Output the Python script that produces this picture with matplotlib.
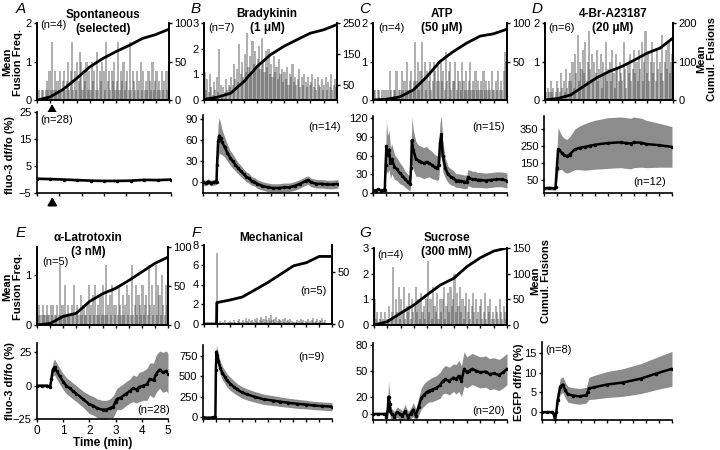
import matplotlib
matplotlib.use('Agg')
import matplotlib.pyplot as plt
import matplotlib.transforms as mtransforms
import numpy as np

plt.rcParams['font.family'] = ['Liberation Sans', 'DejaVu Sans']
plt.rcParams['font.size'] = 8

# ---- fusion histograms (mean fusion frequency per 3 s bin, 0-5 min) ----
BIN = 0.05
a_freq = [0, .25, 0, .25, .25, 0, .25, .5, .25, .75,
          .25, 1.5, .25, .75, .25, .5, .25, .75, .25, .5,
          .75, .25, .5, 1.0, .25, .75, 1.5, .25, .75, .25,
          1.0, .5, 1.25, 1.0, .25, .75, .5, 1.0, .25, .75,
          .25, 1.0, .5, .75, .25, 1.25, .25, .75, .5, 1.0,
          .75, .25, 1.5, .5, .75, .25, .75, .5, 1.0, .25,
          .5, 1.5, .25, .75, .5, 1.0, .25, .5, .75, .25,
          1.5, .25, .75, .5, .25, .75, .25, .5, 1.0, .25,
          .75, .25, .5, .25, .75, .5, .25, 1.0, .25, .5,
          .75, .25, .5, .25, .75, .25, .5, .75, .25, .75]
b_freq = [1.1, .4, .8, .3, 1.0, .5, .2, .7, .4, .9,
          .3, 2.0, .6, .2, .5, .3, .8, .4, .6, .5,
          .9, .6, 1.4, .8, 1.2, .7, 2.2, 1.0, 1.5, .9,
          1.8, 1.1, 2.6, 1.3, 1.7, 1.0, 2.3, 1.4, 1.9, 1.2,
          1.6, 2.1, 1.2, 2.4, 1.5, 1.1, 1.9, 1.3, 2.0, 1.0,
          1.4, .9, 1.7, 1.1, 1.3, .8, 1.6, 1.0, 1.2, .7,
          1.1, .8, 1.3, .6, 1.0, .9, 1.4, .7, .9, .6,
          .8, 1.2, .5, .9, .6, 1.0, .7, .5, .9, .6,
          .7, 1.0, .5, .8, .4, .9, .6, .5, .8, .4,
          .6, .9, .4, .7, .5, 1.0, .4, .6, .8, .5]
c_freq = [.25, .25, 0, .25, .25, 0, .25, 0, .25, .25,
          0, .25, .75, .25, 0, .25, .25, .75, 0, .25,
          .25, .75, .25, .5, .25, 1.0, .25, .5, .75, .25,
          .5, 1.5, .5, 1.0, .25, .75, 1.5, .5, 1.0, .25,
          .75, .5, 1.0, .25, .5, 1.0, .75, .5, 1.0, .5,
          1.0, .5, .75, .25, 1.25, .5, .75, 1.0, .25, .5,
          .5, 1.0, .25, .75, .5, .25, 1.0, .5, .25, .75,
          .25, .5, 1.0, .25, .5, .25, .75, .25, .5, .25,
          .5, .25, .75, .25, .5, .25, .5, .25, .75, .25,
          .25, .5, .25, .75, .25, .5, .25, .75, 1.25, 1.0]
d_freq = [.2, 0, .3, .2, .5, .2, .3, 0, .2, .5,
          .3, .2, .7, .3, .5, .2, .8, .3, .5, .7,
          .5, 1.0, .3, 1.2, .7, 1.7, .5, 1.0, .8, 1.3,
          .7, 1.5, .5, 1.0, 1.8, .8, 1.2, .5, 1.0, .7,
          1.3, .5, .8, 1.2, .3, 1.0, .7, 1.5, .5, .8,
          1.0, .5, 1.3, .7, .3, 1.2, .8, .5, 1.0, .7,
          .5, 1.5, .8, .3, 1.0, .7, 1.2, .5, .8, 1.3,
          .7, 1.0, .5, 1.3, .8, 1.5, .5, 1.0, 1.8, .7,
          1.2, .5, 1.0, 1.5, .7, 1.0, .5, 1.3, .8, 1.0,
          .7, 1.7, .5, 1.0, 1.3, .8, 1.5, .7, 1.0, 1.2]
e_freq = [.2, .4, .2, .2, .4, .2, .2, .4, .2, .2,
          .4, .2, .4, .2, .2, .4, .2, 1.2, .2, .4,
          .2, .8, .2, .4, .2, .2, .4, .2, .8, .2,
          .4, .2, .2, .6, .2, .4, .2, .2, .4, .8,
          .2, .4, .6, .2, .8, .2, .4, .2, .6, .2,
          .8, .2, 1.2, .2, .4, .6, .2, .8, .4, .2,
          .4, .2, .8, .4, .2, .6, .2, .4, .8, .2,
          .6, .2, 1.2, .2, .4, .8, .2, .6, .4, .2,
          .8, .2, .4, .6, .2, 1.2, .4, .8, .2, .4,
          1.2, .2, .8, .6, .2, 1.0, .4, .2, .8, .4]
f_freq = [0, 0, 0, 0, 0, 0, 0, 0, 0, 0,
          7.2, 0, .3, 0, .2, 0, .4, 0, .2, 0,
          .3, .2, 0, .4, .2, 0, .3, .5, .2, 0,
          .4, .2, .6, .3, .2, .5, .3, .4, .2, .5,
          .3, .6, .2, .4, .7, .3, .5, .2, .8, .4,
          .6, .3, .9, .4, .5, .2, .7, .3, .5, .4,
          .3, .5, .2, .6, .3, .4, .2, .5, .3, .2,
          0, .2, .4, 0, .3, .5, .2, .4, 0, .3,
          .2, .5, .3, 0, .4, .6, .2, .3, .5, .2,
          .4, .3, .6, .2, .4, 0, 0, 0, 0, 0]
g_freq = [1.0, .25, .5, 0, .25, .5, .25, 0, .5, .25,
          .25, .75, .25, .5, 2.25, .25, 1.0, .5, 1.5, .25,
          1.0, .5, 1.5, .25, .75, .5, 1.25, .25, 1.0, .5,
          .75, 1.5, .5, 1.0, .25, 1.25, .5, .75, .25, 1.0,
          2.5, .5, 1.0, .25, 1.5, .75, .5, 1.25, .25, 1.0,
          .5, 1.0, 1.5, .25, .75, 1.25, .5, 1.5, .75, 1.0,
          2.0, .5, 1.25, .75, 1.5, .5, 1.0, .25, .75, 1.25,
          .5, 1.0, .25, .75, 1.25, .5, 1.0, .25, .5, .75,
          1.0, .25, .5, 1.25, .25, .75, .5, 1.0, .25, .5,
          .25, .75, .5, .25, 1.0, .5, .25, .75, .5, .25]

# ---- mean cumulative fusions ----
cum_t = [0, .5, 1, 1.5, 2, 2.5, 3, 3.5, 4, 4.5, 5]
a_cum = [0, 4, 14, 28, 43, 54, 63, 71, 80, 85, 92]
b_cum = [2, 9, 22, 60, 109, 147, 174, 196, 217, 228, 245]
c_cum = [0, 1, 4, 13, 30, 50, 63, 74, 83, 86, 92]
d_cum = [0, 4, 13, 35, 57, 74, 87, 104, 122, 135, 161]
e_cum = [0, 2, 11, 15, 30, 40, 47, 57, 68, 79, 87]
f_cum_t = [0, .49, .5, 1, 1.5, 2, 2.5, 3, 3.5, 4, 4.5, 5]
f_cum = [0, 0, 20.6, 23, 26, 33, 40, 48, 56, 59, 65, 65]
g_cum = [0, 6.5, 23, 39, 59, 78, 91, 114, 131, 144, 150]

# ---- calcium / EGFP traces (mean and SEM) ----
a_ca_t = [0, .5, 1, 1.5, 2, 2.5, 3, 3.5, 4, 4.5, 5]
a_ca = [.3, .2, 0, -.2, -.4, -.5, -.5, -.4, -.1, -.2, 0]
a_ca_sem = [.4] * 11

b_ca_t = [0, .1, .2, .3, .4, .5, .52, .56, .6, .65, .7, .8, .9, 1.0, 1.1, 1.2, 1.3, 1.4, 1.5, 1.6,
          1.7, 1.8, 1.9, 2.0, 2.2, 2.4, 2.6, 2.8, 3.0, 3.2, 3.4, 3.6, 3.8, 3.9, 4.0, 4.2, 4.4, 4.6, 4.8, 5.0]
b_ca = [0, -1, 1, -1, 0, 1, 25, 58, 66, 62, 57, 50, 42, 35, 30, 25, 20, 16, 12, 8,
        6, 2, 1, -2, -5, -7, -8, -8, -7, -7, -5, -2, 2, 3, 0, -2, -2, -3, -3, -2]
b_ca_sem = [4, 4, 4, 4, 4, 4, 15, 25, 25, 22, 18, 14, 12, 10, 10, 9, 8, 8, 7, 7,
            7, 6, 6, 6, 6, 6, 6, 6, 6, 6, 6, 6, 6, 6, 6, 6, 6, 6, 6, 6]

c_ca_t = [0, .1, .2, .3, .4, .44, .47, .5, .55, .6, .65, .7, .8, .9, 1.0, 1.1, 1.2, 1.3, 1.38, 1.42,
          1.45, 1.5, 1.6, 1.7, 1.8, 1.9, 2.0, 2.1, 2.2, 2.3, 2.4, 2.45, 2.5, 2.55, 2.6, 2.7, 2.8, 2.9,
          3.0, 3.1, 3.2, 3.3, 3.4, 3.5, 3.55, 3.6, 3.7, 3.8, 3.9, 4.0, 4.2, 4.4, 4.6, 4.8, 5.0]
c_ca = [5, 4, 6, 4, 5, 5, 45, 75, 62, 70, 48, 55, 42, 38, 32, 28, 22, 18, 15, 40,
        85, 70, 55, 52, 50, 48, 50, 48, 45, 42, 40, 45, 80, 95, 60, 40, 30, 26,
        24, 20, 20, 19, 18, 18, 25, 24, 22, 22, 21, 21, 20, 21, 22, 22, 20]
c_ca_sem = [2, 2, 2, 2, 2, 2, 15, 40, 30, 32, 25, 24, 20, 18, 17, 15, 13, 12, 12, 22,
            38, 32, 28, 25, 25, 25, 25, 22, 22, 20, 20, 22, 32, 30, 25, 16, 13, 13,
            12, 11, 11, 11, 11, 11, 13, 13, 13, 13, 12, 12, 12, 12, 12, 12, 12]

d_ca_t = [0, .2, .4, .45, .5, .55, .6, .7, .8, .9, 1.0, 1.2, 1.4, 1.6, 1.8, 2.0, 2.5, 3.0, 3.2, 3.4,
          3.5, 3.8, 4.0, 4.5, 5.0]
d_ca = [0, 2, 0, 5, 120, 230, 225, 210, 195, 190, 200, 230, 240, 245, 252, 258, 268, 272, 268, 265,
        272, 270, 262, 255, 245]
d_ca_sem = [10, 10, 10, 20, 80, 130, 115, 100, 100, 100, 105, 120, 130, 138, 142, 145, 150, 150, 150, 150,
            150, 145, 140, 130, 120]

e_ca_t = [0, .2, .4, .5, .55, .6, .67, .75, .87, 1.0, 1.12, 1.25, 1.37, 1.5, 1.75, 2.0, 2.14, 2.3, 2.5, 2.65,
          2.77, 2.9, 3.0, 3.05, 3.2, 3.4, 3.55, 3.66, 3.8, 3.9, 4.05, 4.2, 4.3, 4.45, 4.55, 4.68, 4.8, 4.94, 5.0]
e_ca = [0, 0, 0, -1, 5, 12, 14, 11, 7, 3, 0, -2, -4, -6, -10, -14, -15, -17, -18, -18,
        -17, -16, -12, -10, -9, -6, -4, -2, -3, -1, 0, 1, 5, 4, 9, 12, 10, 11, 9]
e_ca_sem = [1, 1, 1, 1, 3, 5, 6, 6, 6, 6, 6, 6, 6, 6, 6, 7, 7, 7, 7, 7,
            7, 8, 8, 8, 9, 9, 9, 10, 10, 11, 11, 12, 12, 13, 14, 14, 15, 15, 15]

f_ca_t = [0, .2, .4, .48, .5, .52, .55, .6, .67, .75, .85, .93, 1.05, 1.2, 1.32, 1.5, 1.7, 2.0, 2.35, 2.7,
          3.0, 3.3, 3.64, 4.0, 4.29, 4.6, 5.0]
f_ca = [0, -5, 0, 0, 570, 800, 760, 680, 600, 540, 490, 450, 410, 370, 340, 305, 280, 250, 220, 205,
        190, 178, 165, 155, 145, 138, 130]
f_ca_sem = [5, 5, 5, 5, 60, 80, 80, 80, 80, 80, 80, 80, 80, 75, 70, 70, 68, 65, 62, 60,
            58, 55, 55, 52, 50, 50, 50]

g_ca_t = [0, .2, .4, .47, .5, .55, .58, .62, .65, .7, .8, .9, 1.0, 1.1, 1.2, 1.3, 1.4, 1.5, 1.6, 1.7,
          1.8, 1.9, 2.0, 2.1, 2.2, 2.35, 2.5, 2.6, 2.7, 2.85, 3.0, 3.1, 3.2, 3.3, 3.4, 3.5, 3.6, 3.7,
          3.85, 4.0, 4.2, 4.35, 4.5, 4.7, 4.85, 5.0]
g_ca = [0, 0, 0, 0, -3, 5, 20, 12, 3, 0, -3, 2, 0, -2, 3, -3, 0, 5, -2, 8,
        18, 22, 25, 27, 28, 30, 33, 38, 40, 38, 42, 40, 44, 38, 52, 48, 50, 52,
        50, 48, 49, 46, 47, 45, 48, 52]
g_ca_sem = [1, 1, 1, 1, 4, 8, 18, 12, 8, 6, 6, 6, 6, 6, 8, 6, 6, 8, 8, 10,
            12, 13, 13, 13, 14, 14, 15, 15, 16, 16, 16, 17, 18, 18, 20, 18, 18, 18,
            18, 18, 18, 18, 18, 18, 18, 18]

h_gfp_t = [0, .2, .4, .45, .5, .55, .6, .7, .8, .9, 1.0, 1.2, 1.45, 1.7, 1.75, 1.8, 2.0, 2.5, 3.1, 3.8, 4.4, 5.0]
h_gfp = [0, 0, 0, -.5, -2, 0, 3, 6.5, 7, 5.5, 4.5, 4.2, 4, 4.3, 5, 6, 6.3, 7, 7.5, 8.5, 9.8, 11]
h_gfp_sem = [.2, .2, .2, .3, .5, 1, 1.5, 2, 2, 2, 2, 2, 2, 2, 2.3, 2.8, 3, 3.3, 3.5, 3.8, 4.1, 4.4]

W, H = 720, 450
fig = plt.figure(figsize=(7.2, 4.5), dpi=100)


def box(x0, y0, x1, y1):
    return [x0 / W, 1 - y1 / H, (x1 - x0) / W, (y1 - y0) / H]


def style(ax):
    for s in ax.spines.values():
        s.set_linewidth(1.2)
    ax.tick_params(direction='out', length=2.5, width=1, pad=1.5, labelsize=8)


def hist_panel(rect, freq, lmax, lticks, ct, cum, rmax, rticks):
    ax = fig.add_axes(rect)
    t = np.arange(len(freq)) * BIN + BIN / 2
    # overlapping translucent bars: light single spikes, darker dense body
    ax.bar(t, freq, width=BIN * 1.6, color='#444444', alpha=0.42, linewidth=0)
    ax.set_xlim(0, 5)
    ax.set_ylim(0, lmax)
    ax.set_yticks(lticks)
    ax.set_xticks(np.arange(0, 5.01, 0.5))
    ax.set_xticklabels([])
    ax.spines['top'].set_visible(False)
    style(ax)
    ax2 = ax.twinx()
    ax2.plot(ct, cum, color='k', lw=2)
    ax2.set_ylim(0, rmax)
    ax2.set_yticks(rticks)
    ax2.spines['top'].set_visible(False)
    style(ax2)
    return ax


def ca_panel(rect, t, m, s, ylim, yticks, xticks=None):
    ax = fig.add_axes(rect)
    t, m, s = np.asarray(t), np.asarray(m), np.asarray(s)
    ax.fill_between(t, m - s, m + s, color='#8c8c8c', lw=0)
    ax.plot(t, m, color='k', lw=1.8, marker='.', ms=3)
    ax.set_xlim(0, 5)
    ax.set_ylim(*ylim)
    ax.set_yticks(yticks)
    ax.set_xticks(np.arange(0, 5.01, 0.5) if xticks is None else xticks)
    ax.set_xticklabels([])
    ax.spines['top'].set_visible(False)
    ax.spines['right'].set_visible(False)
    style(ax)
    return ax


ax_a = hist_panel(box(37, 23, 169, 100), a_freq, 2, [0, 1, 2], cum_t, a_cum, 100, [0, 50, 100])
hist_panel(box(204, 23, 337, 100), b_freq, 3, [0, 1, 2, 3], cum_t, b_cum, 250, [50, 150, 250])
hist_panel(box(373, 23, 507, 100), c_freq, 2, [0, 1, 2], cum_t, c_cum, 100, [50, 100])
hist_panel(box(545, 23, 673, 100), d_freq, 2, [0, 1, 2], cum_t, d_cum, 200, [0, 100, 200])

ax_a2 = ca_panel(box(37, 112, 171, 193), a_ca_t, a_ca, a_ca_sem, (-5, 25), [-5, 5, 15, 25],
                 xticks=np.linspace(0, 5, 7))
ca_panel(box(203, 115, 338, 193), b_ca_t, b_ca, b_ca_sem, (-15, 95), [0, 30, 60, 90])
ca_panel(box(373, 116, 507, 193), c_ca_t, c_ca, c_ca_sem, (0, 124), [0, 30, 60, 90, 120])
ca_panel(box(544, 116, 672, 193), d_ca_t, d_ca, d_ca_sem, (-28, 428), [50, 150, 250, 350])

hist_panel(box(37, 247, 168, 325), e_freq, 1.55, [0, 1], cum_t, e_cum, 100, [0, 50, 100])
hist_panel(box(204, 245, 332, 324), f_freq, 8, [0, 2, 4, 6, 8], f_cum_t, f_cum, 76, [0, 50])
hist_panel(box(374, 248, 507, 325), g_freq, 3, [0, 1, 2, 3], cum_t, g_cum, 150, [0, 50, 100, 150])

ax_e = ca_panel(box(37, 343, 168, 419), e_ca_t, e_ca, e_ca_sem, (-25, 32), [-25, 0, 25],
                xticks=[0, 1, 2, 3, 4, 5])
ax_e.set_xticklabels(['0', '1', '2', '3', '4', '5'])
ax_e.tick_params(axis='x', labelsize=8.5, pad=1.5)
ca_panel(box(203, 345, 332, 419), f_ca_t, f_ca, f_ca_sem, (-20, 880), [0, 250, 500, 750])
ca_panel(box(373, 343, 507, 420), g_ca_t, g_ca, g_ca_sem, (-7, 82), [0, 20, 50, 80])
ca_panel(box(542, 342, 672, 420), h_gfp_t, h_gfp, h_gfp_sem, (-2, 17.8), [0, 5, 10, 15])

# stimulus arrows under panel A (fixed pixel offsets below each axis)
for ax in (ax_a, ax_a2):
    tr = mtransforms.blended_transform_factory(ax.transData, ax.transAxes)
    ax.annotate('', xy=(0.57, 0), xytext=(0.57, 0), xycoords=tr,
                textcoords=mtransforms.offset_copy(tr, fig=fig, y=-11, units='dots'),
                arrowprops=dict(arrowstyle='-|>,head_width=0.35,head_length=0.6', color='k', lw=1.3,
                                shrinkA=0, shrinkB=3))


def ftext(x, y, s, **kw):
    fig.text(x / W, 1 - y / H, s, **kw)


# panel letters
for x, y, s in [(21, 9, 'A'), (196, 9, 'B'), (365, 9, 'C'), (537, 9, 'D'),
                (21, 233, 'E'), (196, 233, 'F'), (365, 233, 'G')]:
    ftext(x, y, s, fontsize=11, style='italic', ha='center', va='center')

# titles
for x, y, s in [(103, 22, 'Spontaneous\n(selected)'), (267, 21, 'Bradykinin\n(1 μM)'),
                (442, 21, 'ATP\n(50 μM)'), (613, 21, '4-Br-A23187\n(20 μM)'),
                (88, 245, 'α-Latrotoxin\n(3 nM)'), (271, 238, 'Mechanical'),
                (447, 245, 'Sucrose\n(300 mM)')]:
    ftext(x, y, s, fontsize=8.5, fontweight='bold', ha='center', va='center',
          multialignment='center', linespacing=1.15)

# n labels
for x, y, s in [(40, 25, '(n=4)'), (208, 28, '(n=7)'), (378, 28, '(n=4)'), (548, 28, '(n=6)'),
                (40, 120, '(n=28)'), (308, 127, '(n=14)'), (472, 127, '(n=15)'), (633, 182, '(n=12)'),
                (42, 262, '(n=5)'), (137, 410, '(n=28)'), (300, 291, '(n=5)'), (298, 357, '(n=9)'),
                (377, 255, '(n=4)'), (472, 411, '(n=20)'), (545, 350, '(n=8)')]:
    ftext(x, y, s, fontsize=8, ha='left', va='center')

# axis labels
lab = dict(fontsize=8, fontweight='bold', rotation=90, ha='center', va='center',
           multialignment='center', linespacing=1.1)
ftext(13, 62, 'Mean\nFusion Freq.', **lab)
ftext(10, 155, 'fluo-3 df/fo (%)', **lab)
ftext(13, 287, 'Mean\nFusion Freq.', **lab)
ftext(10, 381, 'fluo-3 df/fo (%)', **lab)
ftext(707, 59, 'Mean\nCumul. Fusions', **lab)
ftext(541, 281, 'Mean\nCumul. Fusions', **lab)
ftext(519, 382, 'EGFP df/fo (%)', **lab)
ftext(103, 443, 'Time (min)', fontsize=8.5, fontweight='bold', ha='center', va='center')

fig.savefig('out.png', dpi=100)
